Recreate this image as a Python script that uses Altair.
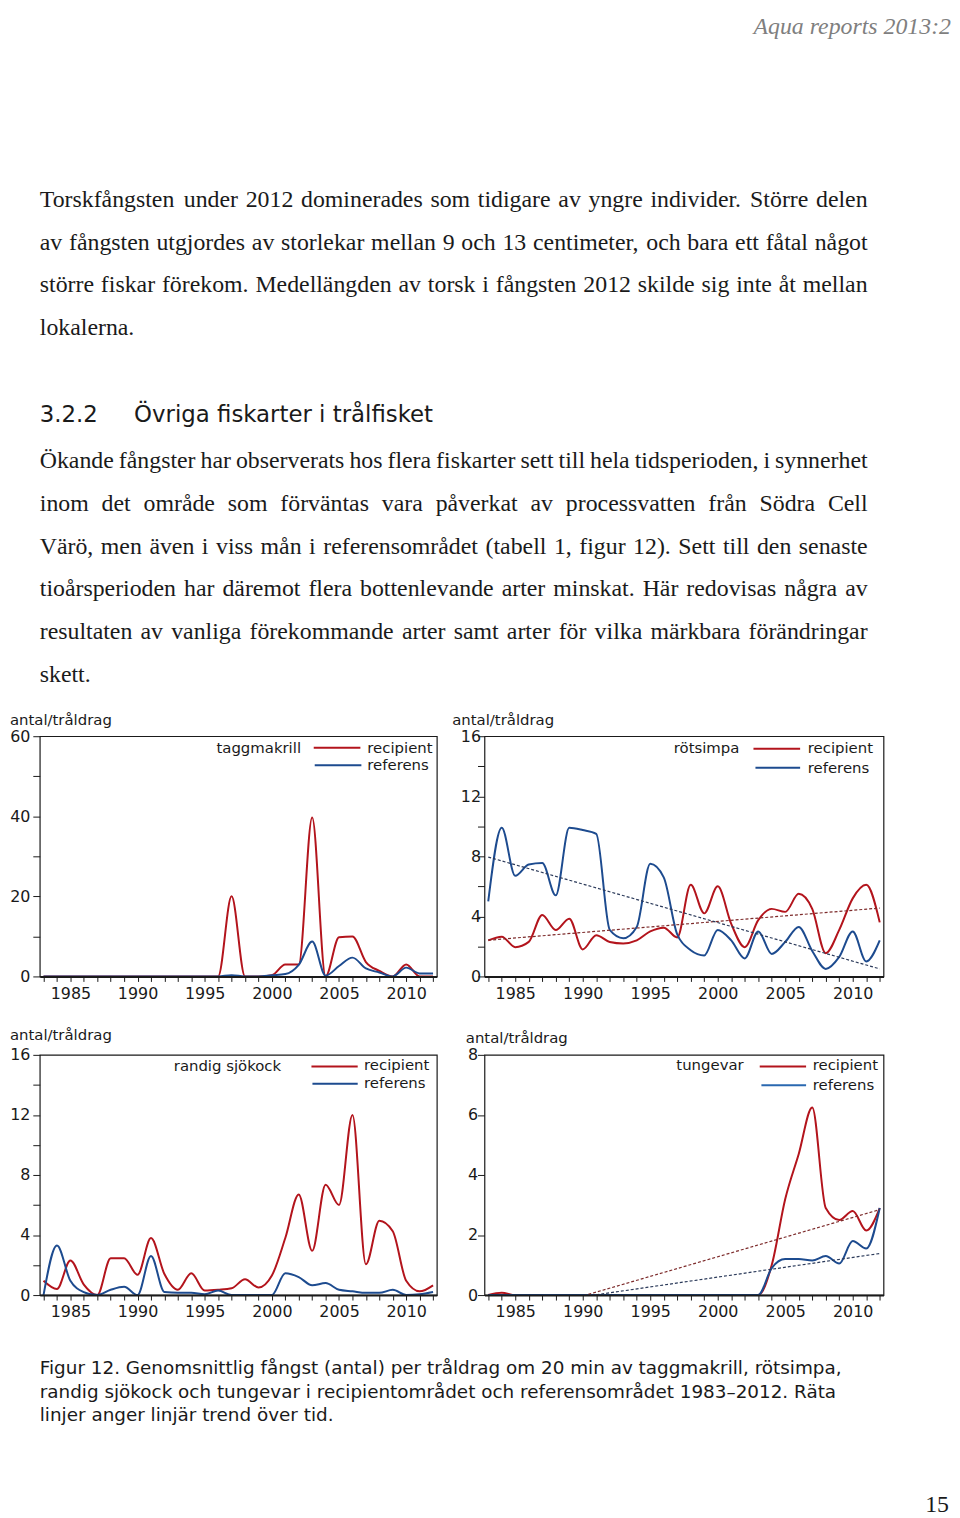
import altair as alt
import pandas as pd

# ---------------- data ----------------
years = [1983, 1984, 1985, 1986, 1987, 1988, 1989, 1990, 1991, 1992,
         1993, 1994, 1995, 1996, 1997, 1998, 1999, 2000, 2001, 2002,
         2003, 2004, 2005, 2006, 2007, 2008, 2009, 2010, 2011, 2012]

taggmakrill_rec = [0, 0, 0, 0, 0, 0, 0, 0, 0, 0,
                   0, 0, 0, 0, 20, 0, 0, 0.3, 3.0, 3.0,
                   39.7, 0, 9.8, 10.0, 3.6, 1.4, 0, 3.0, 0, 0]
taggmakrill_ref = [0, 0, 0, 0, 0, 0, 0, 0, 0, 0,
                   0, 0, 0, 0, 0.3, 0, 0, 0.3, 0.6, 2.9,
                   8.7, 0.2, 2.6, 4.7, 2.0, 1.0, 0, 2.2, 0.75, 0.75]

rotsimpa_rec = [2.4, 2.65, 1.95, 2.3, 4.1, 3.1, 3.85, 1.8, 2.75, 2.3,
                2.2, 2.4, 3.0, 3.25, 2.6, 6.1, 4.2, 6.0, 3.5, 1.95,
                3.75, 4.5, 4.3, 5.5, 4.5, 1.55, 3.1, 5.2, 6.1, 3.6]
rotsimpa_ref = [5.0, 9.9, 6.7, 7.45, 7.55, 5.4, 9.9, 9.75, 9.5, 3.1,
                2.55, 3.3, 7.5, 6.6, 2.8, 1.75, 1.4, 3.1, 2.4, 1.2,
                3.0, 1.5, 2.3, 3.3, 1.7, 0.5, 1.3, 3.0, 1.0, 2.4]

randig_rec = [0.95, 0.4, 2.3, 0.7, 0, 2.45, 2.45, 1.35, 3.8, 1.4,
              0.35, 1.45, 0.3, 0.35, 0.45, 1.05, 0.5, 1.3, 3.8, 6.7,
              2.95, 7.35, 6.0, 12.0, 2.05, 4.95, 4.25, 0.95, 0.25, 0.65]
randig_ref = [0, 3.3, 0.95, 0.2, 0, 0.35, 0.55, 0, 2.6, 0.2,
              0.15, 0.15, 0.05, 0.3, 0, 0, 0, 0, 1.45, 1.2,
              0.65, 0.8, 0.35, 0.25, 0.15, 0.15, 0.35, 0, 0.05, 0.2]

tungevar_rec = [0, 0.08, 0, 0, 0, 0, 0, 0, 0, 0,
                0, 0, 0, 0, 0, 0, 0, 0, 0, 0,
                0, 1.0, 3.2, 4.7, 6.25, 2.9, 2.5, 2.8, 2.15, 2.9]
tungevar_ref = [0, 0, 0, 0, 0, 0, 0, 0, 0, 0,
                0, 0, 0, 0, 0, 0, 0, 0, 0, 0,
                0, 0.9, 1.2, 1.2, 1.15, 1.3, 1.05, 1.8, 1.55, 2.9]

series_names = ["recipient", "referens"]
y_title = "antal/tråldrag"

header_text = "Aqua reports 2013:2"
para1 = [
    "Torskfångsten under 2012 dominerades som tidigare av yngre individer. Större delen",
    "av fångsten utgjordes av storlekar mellan 9 och 13 centimeter, och bara ett fåtal något",
    "större fiskar förekom. Medellängden av torsk i fångsten 2012 skilde sig inte åt mellan",
    "lokalerna.",
]
heading_num = "3.2.2"
heading_text = "Övriga fiskarter i trålfisket"
para2 = [
    "Ökande fångster har observerats hos flera fiskarter sett till hela tidsperioden, i synnerhet",
    "inom det område som förväntas vara påverkat av processvatten från Södra Cell",
    "Värö, men även i viss mån i referensområdet (tabell 1, figur 12). Sett till den senaste",
    "tioårsperioden har däremot flera bottenlevande arter minskat. Här redovisas några av",
    "resultaten av vanliga förekommande arter samt arter för vilka märkbara förändringar",
    "skett.",
]
caption = [
    "Figur 12. Genomsnittlig fångst (antal) per tråldrag om 20 min av taggmakrill, rötsimpa,",
    "randig sjökock och tungevar i recipientområdet och referensområdet 1983–2012. Räta",
    "linjer anger linjär trend över tid.",
]
page_number = "15"

# ---------------- style ----------------
SANS = "DejaVu Sans"
SERIF = "Liberation Serif"
INK = "#1a1a1a"
RED = "#b3141c"
BLUE = "#1d4b8f"
BLUE_LIGHT = "#2a68b0"
RED_TREND = "#7d2b2b"
BLUE_TREND = "#2b3a5a"
XDOM = [1982.72, 2012.28]

# Times/Liberation Serif advance widths (1/1000 em) for justified text layout
TW = {}
for chars, w in [
    ("bdghknopquvxy0123456789ö", 500), ("acezåä", 444), ("fr()-I", 333),
    ("ijlt:", 278), ("sJ", 389), ("m", 778), ("wADGHKNOQUVXYÖÅÄ", 722),
    ("BCR", 667), ("ELTZ", 611), ("FPS", 556), ("M", 889), ("W", 944), (" .,", 250),
]:
    for ch in chars:
        TW[ch] = w


def word_w(s, fs):
    return sum(TW.get(ch, 500) for ch in s) / 1000.0 * fs


def layout_line(text, y, fs, justify, x0=0.0, x1=834.0):
    words = text.split(" ")
    f = fs
    widths = [word_w(w, f) for w in words]
    if justify and len(words) > 1:
        gap = (x1 - x0 - sum(widths)) / (len(words) - 1)
        if gap < 3.0:
            f = fs * (x1 - x0 - 3.0 * (len(words) - 1)) / sum(widths)
            widths = [word_w(w, f) for w in words]
            gap = (x1 - x0 - sum(widths)) / (len(words) - 1)
    else:
        gap = word_w(" ", f)
    rows = []
    x = x0
    for w, wd in zip(words, widths):
        rows.append({"word": w, "x": x, "y": y, "fs": f})
        x += wd + gap
    return rows


# ---------------- page text (top) ----------------
body_rows = []
for i, line in enumerate(para1):
    body_rows += layout_line(line, 193.7 + 43 * i, 24, i < len(para1) - 1)
for i, line in enumerate(para2):
    body_rows += layout_line(line, 457 + 43 * i, 24, i < len(para2) - 1)

body = alt.Chart(pd.DataFrame(body_rows)).mark_text(
    align="left", baseline="alphabetic", font=SERIF, color=INK
).encode(
    x=alt.X("x:Q", scale=None, axis=None),
    y=alt.Y("y:Q", scale=None, axis=None),
    text="word:N",
    size=alt.Size("fs:Q", scale=None, legend=None),
)


def label(txt, x, y, font, size, color=INK, align="left", style="normal"):
    return alt.Chart(pd.DataFrame({"t": [txt]})).mark_text(
        align=align, baseline="alphabetic", font=font, fontSize=size,
        color=color, fontStyle=style
    ).encode(x=alt.value(x), y=alt.value(y), text="t:N")


top = alt.layer(
    body,
    label(header_text, 918, 20, SERIF, 24, color="#7f7f7f", align="right", style="italic"),
    label(heading_num, 0, 410.5, SANS, 23),
    label(heading_text, 95, 410.5, SANS, 23),
).properties(width=400, height=727)

bottom = alt.layer(
    label(caption[0], 0, 79.3, SANS, 18.5),
    label(caption[1], 0, 103.3, SANS, 18.5),
    label(caption[2], 0, 126.7, SANS, 18.5),
    label(page_number, 916, 219, SERIF, 24, align="right"),
).properties(width=400, height=212)


def blank(w=1, h=1):
    return alt.Chart(pd.DataFrame({"t": [0]})).mark_rule(opacity=0, strokeWidth=1).encode(
        x=alt.value(0), x2=alt.value(1), y=alt.value(0.5)
    ).properties(width=w, height=h)


# ---------------- chart panels ----------------
def panel(rec, ref, ymax, ystep, lstep, width, species, leg, tpos, lpad,
          blue, trend=False):
    df = pd.DataFrame({
        "year": years + years,
        "value": rec + ref,
        "series": [series_names[0]] * len(years) + [series_names[1]] * len(years),
    })
    base = alt.Chart(df)
    x = alt.X("year:Q",
              scale=alt.Scale(domain=XDOM, nice=False, zero=False),
              axis=alt.Axis(values=years, format="d",
                            labelExpr="datum.value % 5 == 0 ? datum.label : ''",
                            labelOverlap=False, labelFlush=False,
                            tickSize=5, tickColor=INK, tickWidth=1,
                            labelPadding=4, labelFont=SANS, labelFontSize=16,
                            labelColor=INK, domain=True, domainColor=INK,
                            domainWidth=2, grid=False, title=None, zindex=1))
    yt = [v for v in range(0, ymax + 1, ystep)]
    y = alt.Y("value:Q",
              scale=alt.Scale(domain=[0, ymax], nice=False, zero=True),
              axis=alt.Axis(values=yt,
                            labelExpr=f"datum.value % {lstep} == 0 ? datum.label : ''",
                            labelOverlap=False, labelFlush=False,
                            tickSize=7, tickColor=INK, tickWidth=1,
                            labelPadding=lpad, labelFont=SANS, labelFontSize=16,
                            labelColor=INK, domain=False, grid=False,
                            title=y_title, titleAngle=0, titleAlign="left",
                            titleBaseline="alphabetic", titleX=tpos[0],
                            titleY=tpos[1], titleFont=SANS, titleFontSize=15,
                            titleFontWeight="normal", titleColor=INK, zindex=1))
    lines = base.mark_line(interpolate="monotone", strokeWidth=2, clip=True).encode(
        x=x, y=y,
        color=alt.Color("series:N",
                        scale=alt.Scale(domain=series_names, range=[RED, blue]),
                        legend=None),
    )
    layers = [lines]
    if trend:
        for s, c in [(series_names[0], RED_TREND), (series_names[1], BLUE_TREND)]:
            layers.append(
                base.transform_filter(alt.datum.series == s)
                .transform_regression("year", "value")
                .mark_line(strokeDash=[3, 2], strokeWidth=1.2, clip=True, color=c)
                .encode(x=x, y=y)
            )
    # legend block
    layers.append(label(species, leg["title"][0], leg["title"][1], SANS, 15))
    layers.append(label(series_names[0], leg["rec_t"][0], leg["rec_t"][1], SANS, 15))
    layers.append(label(series_names[1], leg["ref_t"][0], leg["ref_t"][1], SANS, 15))
    for key, col in [("rec_l", RED), ("ref_l", blue)]:
        x1, x2, yy = leg[key]
        layers.append(
            alt.Chart(pd.DataFrame({"t": [0]})).mark_rule(color=col, strokeWidth=2)
            .encode(x=alt.value(x1), x2=alt.value(x2), y=alt.value(yy))
        )
    return alt.layer(*layers).properties(
        width=width, height=242,
        view=alt.ViewBackground(stroke=INK, strokeWidth=1.2, strokeOpacity=1),
    )


c1 = panel(taggmakrill_rec, taggmakrill_ref, 60, 10, 20, 400, "taggmakrill",
           {"title": (178, 16.5), "rec_l": (276, 323, 11.7), "rec_t": (330, 17),
            "ref_l": (277, 324, 29.3), "ref_t": (330, 34)},
           (-30.6, -12.3), 3, BLUE)
c2 = panel(rotsimpa_rec, rotsimpa_ref, 16, 2, 4, 402, "rötsimpa",
           {"title": (190.7, 16.7), "rec_l": (271, 318, 12.7), "rec_t": (325.7, 17),
            "ref_l": (273, 318, 31.7), "ref_t": (325.7, 36.7)},
           (-33, -11.7), -3, BLUE, trend=True)
c3 = panel(randig_rec, randig_ref, 16, 2, 4, 400, "randig sjökock",
           {"title": (135, 16.7), "rec_l": (273.7, 320.3, 11.7), "rec_t": (326.7, 15.7),
            "ref_l": (274.7, 320.3, 29), "ref_t": (326.7, 33)},
           (-30.6, -15.3), 3, BLUE)
c4 = panel(tungevar_rec, tungevar_ref, 8, 2, 2, 402, "tungevar",
           {"title": (193.3, 15.7), "rec_l": (277.3, 324, 11.7), "rec_t": (330.7, 15.7),
            "ref_l": (279, 324, 30.7), "ref_t": (330.7, 35)},
           (-19.3, -12), 0, BLUE_LIGHT, trend=True)

chart = alt.concat(
    top, blank(),
    c1, c2,
    blank(1, 79), blank(),
    c3, c4,
    bottom, blank(),
    columns=2,
    spacing={"row": 0, "column": 48},
    bounds="flush",
    align="each",
).properties(padding=0).configure_view(stroke="transparent")

chart.save("out.html", embed_options={"renderer": "svg", "actions": False})
